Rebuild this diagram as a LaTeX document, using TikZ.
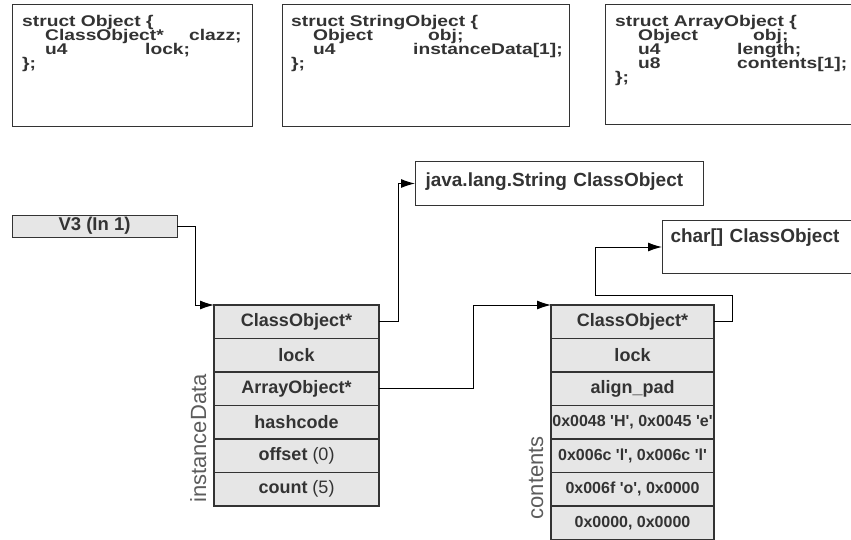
\documentclass[tikz,border=0pt]{standalone}
\usepackage{fontspec}
\setmainfont{Liberation Sans}
\newfontfamily\structfont[FakeStretch=1.24]{Liberation Sans Bold}
\usetikzlibrary{arrows.meta,positioning}
\definecolor{linegray}{HTML}{333333}
\definecolor{cellgray}{HTML}{E6E6E6}
\definecolor{textgray}{HTML}{333333}
\newcommand\aps{\textquotesingle}
\newcommand\structsize{\structfont\fontsize{15.5}{14}\selectfont\lineskiplimit-20pt\relax}
\tikzstyle{structbox}=[
	rectangle,
	draw=linegray,
	line width=1,
	inner sep=0,
	outer sep=0,
	anchor=north west]
\tikzstyle{structtext}=[
	anchor=north west,
	inner sep=0,
	align=left,
	text=textgray,
	font=\structsize]
\tikzstyle{cell}=[
	rectangle,
	draw=linegray,
	fill=cellgray,
	line width=1.2,
	inner sep=0,
	outer sep=0,
	minimum width=165,
	minimum height=33.5,
	text=textgray,
	font=\bfseries\fontsize{18}{18}\selectfont]
\tikzstyle{ccell}=[
	cell,
	minimum width=163]
\tikzstyle{hexcell}=[
	ccell,
	font=\bfseries\fontsize{16}{16}\selectfont]
\tikzstyle{classbox}=[
	rectangle,
	draw=linegray,
	line width=1,
	anchor=north west,
	align=left,
	inner xsep=10,
	inner ysep=4,
	text=textgray,
	font=\bfseries\fontsize{19}{19}\selectfont]
\tikzstyle{sidelabel}=[
	rotate=90,
	anchor=base west,
	inner sep=0,
	text=textgray!80,
	font=\fontsize{22}{22}\selectfont]
\tikzstyle{link}=[
	draw=black,
	line width=1]

\begin{document}
\begin{tikzpicture}[x=1pt,y=-1pt,>={Latex[length=14pt,width=9pt]}]
	\useasboundingbox (0,0) rectangle (851,539);
	% struct definitions
	\node[structbox,minimum width=240,minimum height=122] (objbox) at (12,4) {};
	\node[structtext] (objtxt) at (22,15.5) {struct Object \{\\
		\hspace*{23pt}\makebox[144pt][l]{ClassObject*}clazz;\\
		\hspace*{23pt}\makebox[100pt][l]{u4}lock;\\
		\};};
	\node[structbox,minimum width=287,minimum height=122] (strbox) at (282,4) {};
	\node[structtext] (strtxt) at (291,15.5) {struct StringObject \{\\
		\hspace*{22pt}\makebox[115pt][l]{Object}obj;\\
		\hspace*{22pt}\makebox[100pt][l]{u4}instanceData[1];\\
		\};};
	\node[structbox,minimum width=250,minimum height=120] (arrbox) at (605,4) {};
	\node[structtext] (arrtxt) at (615,15.5) {struct ArrayObject \{\\
		\hspace*{23pt}\makebox[115pt][l]{Object}obj;\\
		\hspace*{23pt}\makebox[99pt][l]{u4}length;\\
		\hspace*{23pt}\makebox[99pt][l]{u8}contents[1];\\
		\};};
	% class objects
	\node[classbox,text width=268,text height=21,text depth=15] (jls) at (415,161) {java.lang.String ClassObject};
	\node[classbox,text width=173,inner xsep=8,text height=18,text depth=27] (chr) at (662,220) {char[] ClassObject};
	% register
	\node[cell,anchor=north west,minimum height=22,line width=1,font=\bfseries\fontsize{18.5}{18.5}\selectfont] (v3) at (12,215) {V3 (In 1)};
	% the String instance
	\node[cell,anchor=north west] (cls1) at (214,305) {ClassObject*};
	\node[cell] (lock1) [below=0pt of cls1] {lock};
	\node[cell] (arr) [below=0pt of lock1] {ArrayObject*};
	\node[cell] (hash) [below=0pt of arr] {hashcode};
	\node[cell] (offs) [below=0pt of hash] {offset {\mdseries(0)}};
	\node[cell] (cnt) [below=0pt of offs] {count {\mdseries(5)}};
	\node[sidelabel] (idlbl) at ([xshift=-8pt,yshift=3pt]cnt.south west) {instanceData};
	% the char array
	\node[ccell,anchor=north west] (cls2) at (551,305) {ClassObject*};
	\node[ccell] (lock2) [below=0pt of cls2] {lock};
	\node[ccell] (pad) [below=0pt of lock2] {align\_pad};
	\node[hexcell] (he) [below=0pt of pad] {0x0048 \aps H\aps, 0x0045 \aps e\aps};
	\node[hexcell] (ll) [below=0pt of he] {0x006c \aps l\aps, 0x006c \aps l\aps};
	\node[hexcell] (onul) [below=0pt of ll] {0x006f \aps o\aps, 0x0000};
	\node[hexcell] (nuls) [below=0pt of onul] {0x0000, 0x0000};
	\node[sidelabel] (ctlbl) at ([xshift=-8pt,yshift=20pt]nuls.south west) {contents};
	% pointers
	\draw[link,->] (v3.east) -- ++(18,0) |- (cls1.north west);
	\draw[link,->] (cls1.east) -- ++(19,0) |- (jls.west);
	\draw[link,->] (arr.east) -- ++(94,0) |- (cls2.north west);
	\draw[link,->] (cls2.east) -- ++(18,0) -- ++(0,-26) -- ++(-137,0) |- (chr.west);
\end{tikzpicture}
\end{document}
